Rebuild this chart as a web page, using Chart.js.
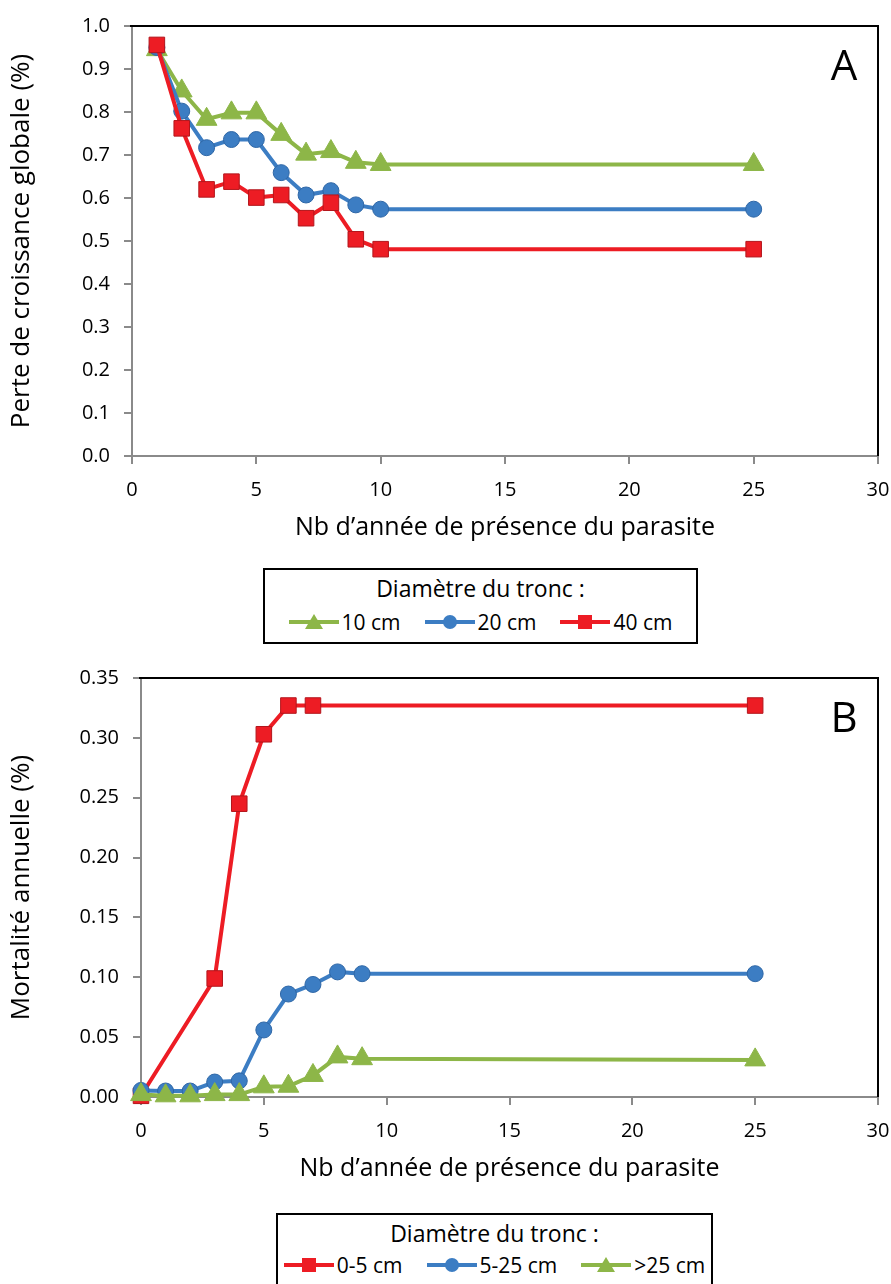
<!DOCTYPE html>
<html lang="fr">
<head>
<meta charset="utf-8">
<title>Perte de croissance et mortalité</title>
<script src="https://cdn.jsdelivr.net/npm/chart.js@4.4.1/dist/chart.umd.min.js"></script>
<style>
  html, body { margin: 0; padding: 0; background: #fff; }
  body { width: 891px; height: 1284px; position: relative; overflow: hidden; font-family: 'Open Sans', sans-serif; color: #000; }
  canvas { position: absolute; left: 0; }
  #chartA { top: 0; }
  #chartB { top: 640px; }
  .legend { position: absolute; border: 2px solid #000; box-sizing: border-box; background: #fff; }
  .legend .title { position: absolute; left: 0; right: 0; text-align: center; font-size: 23px; line-height: 28px; }
  .legend .items { position: absolute; left: 0; right: 0; display: flex; justify-content: center; gap: 24px; font-size: 21px; line-height: 28px; }
  .legend .item { display: flex; align-items: center; }
  .legend svg { margin-right: 3px; }
</style>
</head>
<body>
<canvas id="chartA" width="891" height="560"></canvas>
<canvas id="chartB" width="891" height="560"></canvas>
<div class="legend" style="left:263px; top:568px; width:435px; height:76px;">
  <div class="title" style="top:4px;">Diamètre du tronc :</div>
  <div class="items" id="legendA" style="top:38px;"></div>
</div>
<div class="legend" style="left:276px; top:1213px; width:437px; height:90px;">
  <div class="title" style="top:4px;">Diamètre du tronc :</div>
  <div class="items" id="legendB" style="top:36px;"></div>
</div>
<script>
// Graphique A : perte de croissance globale (%)
const anneesA = [1, 2, 3, 4, 5, 6, 7, 8, 9, 10, 25];
const perte10cm = [0.945, 0.849, 0.783, 0.798, 0.798, 0.748, 0.702, 0.708, 0.683, 0.678, 0.678];
const perte20cm = [0.950, 0.802, 0.717, 0.736, 0.736, 0.659, 0.607, 0.617, 0.584, 0.574, 0.574];
const perte40cm = [0.956, 0.762, 0.620, 0.638, 0.601, 0.607, 0.553, 0.589, 0.504, 0.481, 0.481];

// Graphique B : mortalité annuelle (%)
const anneesB05 = [0, 3, 4, 5, 6, 7, 25];
const mort0_5cm = [0.001, 0.099, 0.245, 0.303, 0.327, 0.327, 0.327];
const anneesB = [0, 1, 2, 3, 4, 5, 6, 7, 8, 9, 25];
const mort5_25cm = [0.0055, 0.005, 0.005, 0.0125, 0.0135, 0.056, 0.086, 0.094, 0.1045, 0.103, 0.103];
const mortSup25cm = [0.002, 0.001, 0.001, 0.002, 0.002, 0.0085, 0.009, 0.018, 0.0335, 0.032, 0.031];

const xTicks = [0, 5, 10, 15, 20, 25, 30];
const yTicksA = [0, 0.1, 0.2, 0.3, 0.4, 0.5, 0.6, 0.7, 0.8, 0.9, 1.0];
const yTicksB = [0, 0.05, 0.10, 0.15, 0.20, 0.25, 0.30, 0.35];

const ROUGE = '#ED1C24', BLEU = '#3C7DC3', VERT = '#8DB648';
const GRIS = '#8a8a8a';

Chart.defaults.font.family = "'Open Sans', sans-serif";
Chart.defaults.color = '#000';

function serie(label, xs, ys, color, shape, radius, border) {
    return {
        label: label,
        data: xs.map((x, i) => ({ x: x, y: ys[i] })),
        borderColor: color,
        backgroundColor: color,
        borderWidth: 4,
        tension: 0,
        pointStyle: shape,
        pointRadius: radius,
        pointBackgroundColor: color,
        pointBorderColor: border,
        pointBorderWidth: 1,
        clip: false,
    };
}

function axes(yTicks, decimals, yTitle, yWidth) {
    return {
        x: {
            type: 'linear',
            min: 0,
            max: 30,
            afterBuildTicks: s => { s.ticks = xTicks.map(v => ({ value: v })); },
            afterFit: s => { s.height = 87; s.paddingRight = 0; },
            grid: { drawOnChartArea: false, drawTicks: true, tickLength: 8, color: GRIS, lineWidth: 2 },
            border: { color: GRIS, width: 2 },
            ticks: { padding: 14, font: { size: 20 }, maxRotation: 0, autoSkip: false },
            title: { display: true, text: 'Nb d’année de présence du parasite', font: { size: 25 }, padding: 0 },
        },
        y: {
            min: yTicks[0],
            max: yTicks[yTicks.length - 1],
            afterBuildTicks: s => { s.ticks = yTicks.map(v => ({ value: v })); },
            afterFit: s => { s.width = yWidth; },
            grid: { drawOnChartArea: false, drawTicks: true, tickLength: 8, color: GRIS, lineWidth: 2 },
            border: { color: GRIS, width: 2 },
            ticks: { padding: 14, font: { size: 20 }, callback: v => v.toFixed(decimals) },
            title: { display: true, text: yTitle, font: { size: 26 }, padding: { top: 6, bottom: 0 } },
        }
    };
}

// top and right border of the plot area, plus the panel letter
const cadre = {
    id: 'cadre',
    beforeDatasetsDraw(chart) {
        const { ctx, chartArea: a } = chart;
        ctx.save();
        ctx.strokeStyle = '#000';
        ctx.lineWidth = 2;
        ctx.beginPath();
        ctx.moveTo(a.left - 2, a.top);
        ctx.lineTo(a.right, a.top);
        ctx.lineTo(a.right, a.bottom);
        ctx.stroke();
        ctx.restore();
    },
    afterDraw(chart, args, opts) {
        const { ctx, chartArea: a } = chart;
        ctx.save();
        ctx.font = "42px 'Open Sans'";
        ctx.fillStyle = '#000';
        ctx.textAlign = 'center';
        ctx.textBaseline = 'alphabetic';
        ctx.fillText(opts.text, a.right - 34, a.top + 54);
        ctx.restore();
    }
};

new Chart(document.getElementById('chartA'), {
    type: 'line',
    data: {
        datasets: [
            serie('40 cm', anneesA, perte40cm, ROUGE, 'rect', 11, '#B3161C'),
            serie('20 cm', anneesA, perte20cm, BLEU, 'circle', 8, '#2F67A6'),
            serie('10 cm', anneesA, perte10cm, VERT, 'triangle', 12, VERT),
        ]
    },
    options: {
        responsive: false,
        animation: false,
        devicePixelRatio: 1,
        layout: { padding: { top: 25, right: 13, left: 0, bottom: 17 } },
        plugins: { legend: { display: false }, tooltip: { enabled: false }, cadre: { text: 'A' } },
        scales: axes(yTicksA, 1, 'Perte de croissance globale (%)', 132),
    },
    plugins: [cadre]
});

new Chart(document.getElementById('chartB'), {
    type: 'line',
    data: {
        datasets: [
            serie('>25 cm', anneesB, mortSup25cm, VERT, 'triangle', 12, VERT),
            serie('5-25 cm', anneesB, mort5_25cm, BLEU, 'circle', 8, '#2F67A6'),
            serie('0-5 cm', anneesB05, mort0_5cm, ROUGE, 'rect', 11, '#B3161C'),
        ]
    },
    options: {
        responsive: false,
        animation: false,
        devicePixelRatio: 1,
        layout: { padding: { top: 38, right: 13, left: 0, bottom: 16 } },
        plugins: { legend: { display: false }, tooltip: { enabled: false }, cadre: { text: 'B' } },
        scales: axes(yTicksB, 2, 'Mortalité annuelle (%)', 141),
    },
    plugins: [cadre]
});

// legends: line with marker, then the label
function marqueur(color, shape) {
    let m;
    if (shape === 'rect') m = `<rect x="18" y="3" width="14" height="14" fill="${color}"/>`;
    else if (shape === 'circle') m = `<circle cx="25" cy="10" r="7" fill="${color}"/>`;
    else m = `<polygon points="25,2 34,17 16,17" fill="${color}"/>`;
    return `<svg width="50" height="20"><line x1="0" y1="10" x2="50" y2="10" stroke="${color}" stroke-width="4"/>${m}</svg>`;
}

function legende(id, entries) {
    document.getElementById(id).innerHTML = entries
        .map(e => `<span class="item">${marqueur(e[1], e[2])}<span>${e[0]}</span></span>`)
        .join('');
}

legende('legendA', [['10 cm', VERT, 'triangle'], ['20 cm', BLEU, 'circle'], ['40 cm', ROUGE, 'rect']]);
legende('legendB', [['0-5 cm', ROUGE, 'rect'], ['5-25 cm', BLEU, 'circle'], ['&gt;25 cm', VERT, 'triangle']]);
</script>
</body>
</html>
